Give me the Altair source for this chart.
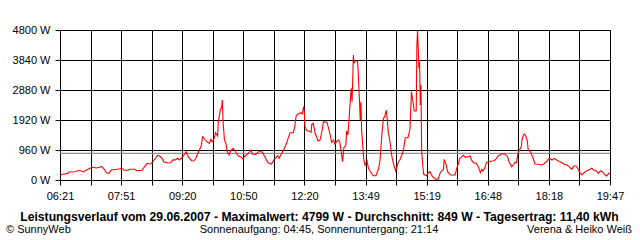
import json
import altair as alt
import pandas as pd

# time of day in minutes since midnight, and power in W
TIMES = [382, 385, 393, 394, 403, 410, 415, 420, 425, 429, 434, 439, 442, 446, 449, 453, 456, 464, 469, 471,
         475, 481, 483, 491, 493, 501, 505, 509, 514, 519, 524, 527, 531, 533, 539, 543, 547, 550, 553, 556,
         561, 566, 569, 574, 577, 580, 584, 588, 590, 594, 597, 600, 602, 604, 607, 609, 612, 613, 616, 618,
         619, 620, 622, 624, 626, 629, 631, 635, 639, 642, 646, 649, 652, 657, 661, 663, 668, 672, 677, 679,
         683, 686, 691, 695, 700, 702, 706, 710, 713, 718, 723, 725, 727, 730, 734, 736, 738, 739, 740, 743,
         746, 749, 750, 752, 755, 757, 759, 762, 765, 767, 772, 774, 777, 779, 782, 784, 787, 789, 791, 794,
         795, 797, 800, 801, 803, 805, 807, 808, 809, 811, 812, 813, 817, 818, 820, 821, 822, 823, 826, 828,
         831, 833, 836, 840, 844, 848, 850, 853, 855, 857, 859, 861, 862, 865, 867, 870, 873, 877, 879, 882,
         884, 887, 891, 894, 896, 899, 900, 903, 904, 905, 907, 908, 909, 910, 911, 913, 914, 918, 921, 923,
         927, 931, 935, 938, 940, 943, 944, 947, 949, 953, 960, 962, 965, 967, 970, 972, 975, 979, 982, 984,
         987, 991, 994, 997, 999, 1001, 1004, 1006, 1009, 1014, 1017, 1021, 1023, 1028, 1033, 1037, 1039, 1043, 1045, 1048,
         1050, 1052, 1054, 1057, 1058, 1060, 1062, 1064, 1066, 1067, 1071, 1075, 1077, 1082, 1087, 1090, 1094, 1098, 1102, 1105,
         1109, 1113, 1116, 1120, 1124, 1127, 1131, 1134, 1137, 1139, 1142, 1146, 1149, 1153, 1158, 1160, 1163, 1167, 1170, 1173,
         1176, 1180, 1182, 1185, 1187]
WATTS = [160, 182, 214, 256, 266, 310, 256, 320, 374, 406, 384, 406, 438, 342, 234, 214, 320, 342, 362, 394,
         310, 310, 342, 342, 298, 310, 426, 534, 512, 640, 790, 768, 682, 586, 544, 554, 650, 640, 694, 640,
         746, 906, 746, 618, 608, 694, 906, 1088, 1386, 1280, 1206, 1174, 1302, 1226, 1334, 1514, 1408, 1866, 2240, 2346,
         2560, 1866, 1280, 1194, 906, 800, 938, 1014, 874, 778, 746, 672, 768, 854, 960, 832, 822, 906, 906, 832,
         662, 554, 512, 662, 778, 694, 854, 1014, 1174, 1514, 1514, 1706, 2048, 2112, 2154, 2112, 2346, 2208, 1706, 1568,
         1568, 1526, 1782, 1814, 1494, 1386, 1248, 1280, 1568, 1866, 1846, 1706, 1440, 1206, 1280, 1142, 1248, 1280, 1206, 778,
         586, 1034, 1120, 1568, 1440, 2080, 2720, 2934, 2506, 4000, 3734, 3808, 3808, 3488, 2454, 1920, 2506, 1600, 694, 480,
         608, 374, 266, 138, 138, 374, 640, 1546, 1974, 2026, 2240, 1866, 1546, 1174, 800, 480, 288, 586, 640, 800,
         928, 1354, 1354, 1654, 2826, 2400, 2208, 2208, 4320, 4799, 3574, 3786, 2400, 3040, 906, 374, 182, 138, 234, 266,
         106, 32, 22, 214, 288, 342, 662, 480, 266, 160, 160, 342, 534, 694, 746, 790, 726, 746, 768, 640,
         554, 534, 426, 234, 342, 288, 406, 566, 586, 608, 618, 694, 768, 832, 832, 746, 586, 426, 480, 566,
         554, 854, 938, 1066, 1280, 1440, 1472, 1386, 1226, 982, 874, 662, 512, 502, 480, 512, 586, 694, 640, 694,
         640, 586, 566, 502, 480, 426, 342, 448, 448, 406, 266, 160, 234, 298, 342, 374, 320, 288, 214, 288,
         266, 160, 128, 214, 192]

AVERAGE = 849
Y_TICKS = [0, 960, 1920, 2880, 3840, 4800]
T_START, T_END = 381, 1187
X_LABELS = ["06:21", "07:51", "09:20", "10:50", "12:20", "13:49", "15:19", "16:48", "18:18", "19:47"]

TITLE = "Leistungsverlauf vom 29.06.2007 - Maximalwert: 4799 W - Durchschnitt: 849 W - Tagesertrag: 11,40 kWh"
FOOT_LEFT = "© SunnyWeb"
FOOT_CENTER = "Sonnenaufgang: 04:45, Sonnenuntergang: 21:14"
FOOT_RIGHT = "Verena & Heiko Weiß"

FONT = "Liberation Sans"
W, H = 550, 150

df = pd.DataFrame({"t": TIMES, "w": WATTS})
step = (T_END - T_START) / 18
x_vals = [T_START + k * step for k in range(19)]
label_expr = (
    f"(round((datum.value - {T_START}) / {step}) % 2 == 0) ? "
    f"{json.dumps(X_LABELS)}[round((datum.value - {T_START}) / {2 * step})] : ''"
)

x_enc = alt.X(
    "t:Q",
    scale=alt.Scale(domain=[T_START, T_END], nice=False, zero=False),
    axis=alt.Axis(
        values=x_vals, labelExpr=label_expr, title=None, grid=True, gridColor="black",
        gridOpacity=1, gridWidth=1, domain=False, tickColor="black", tickSize=5, tickWidth=1,
        labelFont=FONT, labelFontSize=11, labelColor="black", labelPadding=5,
        labelFlush=False, labelOverlap=False,
    ),
)
y_axis = alt.Axis(
    values=Y_TICKS, labelExpr="datum.value + ' W'", title=None, grid=True, gridColor="black",
    gridOpacity=1, gridWidth=1, domain=False, tickColor="black", tickSize=5, tickWidth=1,
    labelFont=FONT, labelFontSize=11, labelColor="black", labelPadding=5,
    labelFlush=False, labelOverlap=False,
)
y_scale = alt.Scale(domain=[0, 4800], nice=False)

avg = alt.Chart(pd.DataFrame({"w": [AVERAGE]})).mark_rule(color="#909090", strokeWidth=1.2).encode(
    y=alt.Y("w:Q", scale=y_scale, axis=y_axis)
)
line = alt.Chart(df).mark_line(color="#ff0000", strokeWidth=1.1, clip=True).encode(
    x=x_enc, y=alt.Y("w:Q", scale=y_scale, axis=y_axis)
)


def text(s, x, y, align, bold=False):
    return alt.Chart(pd.DataFrame({"s": [s]})).mark_text(
        align=align, baseline="alphabetic", font=FONT, fontSize=12.2 if bold else 11,
        fontWeight="bold" if bold else "normal", color="black",
    ).encode(text="s:N", x=alt.value(x), y=alt.value(y))


chart = alt.layer(
    avg,
    line,
    text(TITLE, 259.5, 191, "center", bold=True),
    text(FOOT_LEFT, -54, 202.7, "left"),
    text(FOOT_CENTER, 259, 202.7, "center"),
    text(FOOT_RIGHT, 572, 202.7, "right"),
).properties(
    width=W, height=H,
    autosize=alt.AutoSizeParams(type="none"),
    padding={"left": 60, "top": 30, "right": 30, "bottom": 60},
).configure_view(strokeWidth=0).configure(background="white")

chart.save("out.html", embed_options={"renderer": "svg", "actions": False})
